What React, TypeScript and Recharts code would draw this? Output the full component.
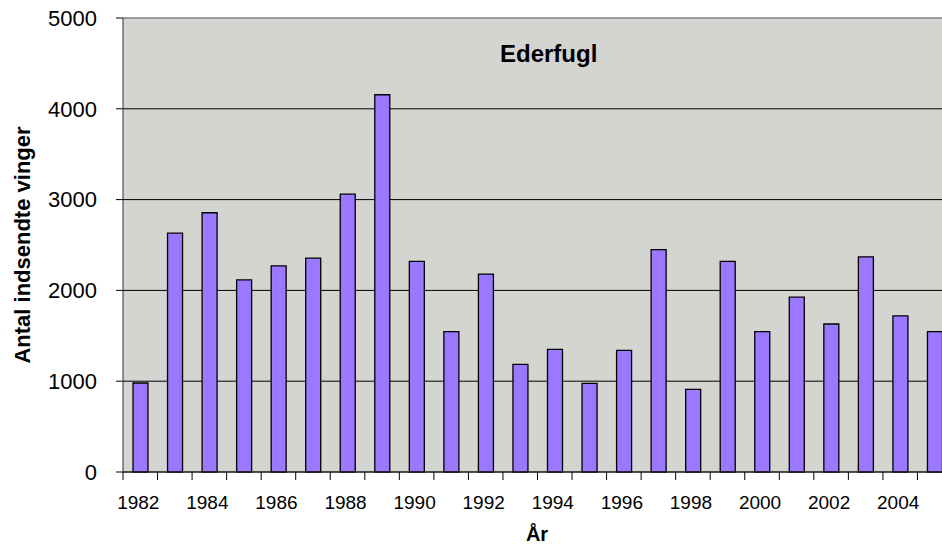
import React from "react"
import { Bar, BarChart, CartesianGrid, ReferenceLine, XAxis, YAxis } from "recharts"

const years = [
  "1982", "1983", "1984", "1985", "1986", "1987", "1988", "1989", "1990", "1991", "1992", "1993",
  "1994", "1995", "1996", "1997", "1998", "1999", "2000", "2001", "2002", "2003", "2004", "2005"
]
const wings = [
  980, 2630, 2855, 2115, 2270, 2355, 3060, 4155, 2320, 1545, 2180, 1185,
  1350, 975, 1340, 2450, 910, 2320, 1545, 1925, 1630, 2370, 1720, 1545
]
const yTicks = [0, 1000, 2000, 3000, 4000, 5000]

const data = years.map((year, i) => ({ year, value: wings[i] }))

const W = 960
const H = 547
const LEFT = 123
const RIGHT = 8
const band = (W - LEFT - RIGHT) / years.length
const font = "'Liberation Sans', Arial, sans-serif"

function YearTick(props: any) {
  const { x, y, index, payload } = props
  const left = x - band / 2
  return (
    <g>
      <line x1={left} y1={y} x2={left} y2={y + 8} stroke="#000" strokeWidth={1} />
      {index % 2 === 0 && (
        <text x={x - 2} y={y + 37} textAnchor="middle" fontSize={19} fill="#000" fontFamily={font}>
          {payload.value}
        </text>
      )}
    </g>
  )
}

export default function App() {
  return (
    <div style={{ position: "fixed", left: 0, top: 0, width: 942, height: 547, overflow: "hidden", background: "#fff", fontFamily: font }}>
      <BarChart width={W} height={H} data={data} margin={{ top: 18, right: RIGHT, left: 0, bottom: 0 }} barSize={15}>
        <CartesianGrid vertical={false} stroke="#000" fill="#d4d5d0" fillOpacity={1} />
        <XAxis
          dataKey="year"
          interval={0}
          tickLine={false}
          tickSize={0}
          tickMargin={0}
          height={75}
          axisLine={{ stroke: "#222" }}
          tick={<YearTick />}
        />
        <YAxis
          width={LEFT}
          domain={[0, 5000]}
          ticks={yTicks}
          interval={0}
          tickSize={7}
          tickMargin={19}
          axisLine={{ stroke: "#333" }}
          tickLine={{ stroke: "#000" }}
          tick={{ fontSize: 22, fill: "#000", fontFamily: font }}
        />
        <ReferenceLine y={5000} stroke="#a8a8a8" strokeWidth={1.5} />
        <Bar dataKey="value" fill="#9b78ff" stroke="#000" strokeWidth={1.3} isAnimationActive={false} />
      </BarChart>
      <div style={{ position: "absolute", left: 500, top: 40, fontSize: 24, fontWeight: "bold", lineHeight: "28px" }}>Ederfugl</div>
      <div style={{ position: "absolute", left: 507, top: 522, width: 60, textAlign: "center", fontSize: 20, fontWeight: "bold", lineHeight: "24px" }}>År</div>
      <div
        style={{
          position: "absolute",
          left: 23 - 150,
          top: 245 - 13,
          width: 300,
          height: 26,
          textAlign: "center",
          fontSize: 22,
          fontWeight: "bold",
          lineHeight: "26px",
          transform: "rotate(-90deg)"
        }}
      >
        Antal indsendte vinger
      </div>
    </div>
  )
}
